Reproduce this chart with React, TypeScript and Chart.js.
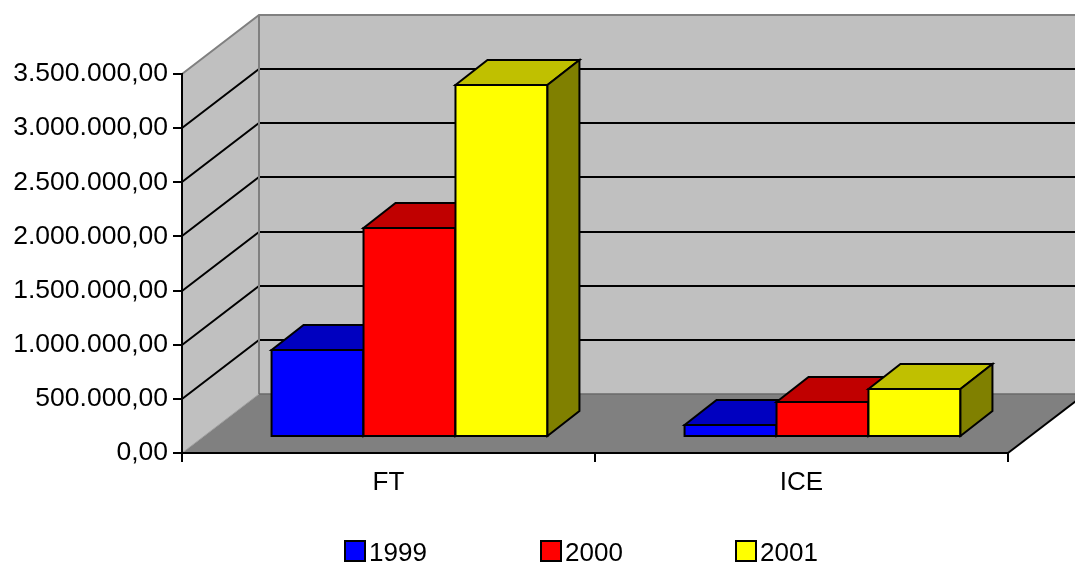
import React, { useEffect, useRef } from "react";
import { Chart, registerables } from "chart.js";

Chart.register(...registerables);

const categories = ["FT", "ICE"];
const seriesNames = ["1999", "2000", "2001"];
const values1999 = [803000, 111000];
const values2000 = [1930000, 323000];
const values2001 = [3251000, 443000];
const yTickMax = 3500000;
const yTickStep = 500000;

const frontColors = ["#0000ff", "#ff0000", "#ffff00"];
const topColors = ["#0000c0", "#c00000", "#c0c000"];
const sideColors = ["#000080", "#800000", "#808000"];

const FONT = "'Liberation Sans', Arial, sans-serif";

function fmt(v: number): string {
  const n = Math.round(v);
  const s = String(n).replace(/\B(?=(\d{3})+(?!\d))/g, ".");
  return s + ",00";
}

// oblique depth of the whole plot box, bar offset in depth, bar depth
const WALL = { dx: 77, dy: -59 };
const BAR_OFF = { dx: 21, dy: -16 };
const BAR_D = { dx: 32, dy: -25 };

const threeD = {
  id: "threeD",
  beforeDraw(chart: any) {
    const { ctx, chartArea } = chart;
    const { left: L, right: R, top: T, bottom: B } = chartArea;
    const ys = chart.scales.y;
    ctx.save();
    ctx.fillStyle = "#c0c0c0";
    ctx.beginPath();
    ctx.moveTo(L, B);
    ctx.lineTo(L, T);
    ctx.lineTo(L + WALL.dx, T + WALL.dy);
    ctx.lineTo(L + WALL.dx, B + WALL.dy);
    ctx.closePath();
    ctx.fill();
    ctx.fillRect(L + WALL.dx, T + WALL.dy, R - L, B - T);
    ctx.fillStyle = "#808080";
    ctx.beginPath();
    ctx.moveTo(L, B);
    ctx.lineTo(L + WALL.dx, B + WALL.dy);
    ctx.lineTo(R + WALL.dx, B + WALL.dy);
    ctx.lineTo(R, B);
    ctx.closePath();
    ctx.fill();
    ctx.strokeStyle = "#000000";
    ctx.lineWidth = 2;
    for (let v = yTickStep; v < yTickMax; v += yTickStep) {
      const y = Math.round(ys.getPixelForValue(v));
      ctx.beginPath();
      ctx.moveTo(L, y);
      ctx.lineTo(L + WALL.dx, y + WALL.dy);
      ctx.lineTo(R + WALL.dx, y + WALL.dy);
      ctx.stroke();
    }
    ctx.strokeStyle = "#808080";
    ctx.lineWidth = 2;
    ctx.beginPath();
    ctx.moveTo(L, T);
    ctx.lineTo(L + WALL.dx, T + WALL.dy);
    ctx.lineTo(R + WALL.dx, T + WALL.dy);
    ctx.moveTo(L + WALL.dx, T + WALL.dy);
    ctx.lineTo(L + WALL.dx, B + WALL.dy);
    ctx.stroke();
    ctx.strokeStyle = "#6a6a6a";
    ctx.lineWidth = 1.5;
    ctx.beginPath();
    ctx.moveTo(L + WALL.dx, B + WALL.dy);
    ctx.lineTo(R + WALL.dx, B + WALL.dy);
    ctx.stroke();
    ctx.strokeStyle = "#a0a0a0";
    ctx.lineWidth = 1;
    ctx.beginPath();
    ctx.moveTo(L, B);
    ctx.lineTo(L + WALL.dx, B + WALL.dy);
    ctx.stroke();
    ctx.strokeStyle = "#000000";
    ctx.lineWidth = 2;
    ctx.beginPath();
    ctx.moveTo(R, B);
    ctx.lineTo(R + WALL.dx, B + WALL.dy);
    ctx.stroke();
    ctx.restore();
  },
  afterDatasetsDraw(chart: any) {
    const { ctx } = chart;
    const n = chart.data.labels.length;
    ctx.save();
    ctx.lineWidth = 2;
    ctx.strokeStyle = "#000000";
    ctx.lineJoin = "miter";
    for (let c = 0; c < n; c++) {
      for (let d = 0; d < chart.data.datasets.length; d++) {
        const el: any = chart.getDatasetMeta(d).data[c];
        if (!el) continue;
        const x0 = el.x - el.width / 2 + BAR_OFF.dx;
        const x1 = el.x + el.width / 2 + BAR_OFF.dx;
        const top = el.y + BAR_OFF.dy;
        const bot = el.base + BAR_OFF.dy;
        ctx.fillStyle = frontColors[d];
        ctx.beginPath();
        ctx.rect(x0, top, x1 - x0, bot - top);
        ctx.fill();
        ctx.stroke();
        ctx.fillStyle = topColors[d];
        ctx.beginPath();
        ctx.moveTo(x0, top);
        ctx.lineTo(x0 + BAR_D.dx, top + BAR_D.dy);
        ctx.lineTo(x1 + BAR_D.dx, top + BAR_D.dy);
        ctx.lineTo(x1, top);
        ctx.closePath();
        ctx.fill();
        ctx.stroke();
        ctx.fillStyle = sideColors[d];
        ctx.beginPath();
        ctx.moveTo(x1, top);
        ctx.lineTo(x1 + BAR_D.dx, top + BAR_D.dy);
        ctx.lineTo(x1 + BAR_D.dx, bot + BAR_D.dy);
        ctx.lineTo(x1, bot);
        ctx.closePath();
        ctx.fill();
        ctx.stroke();
      }
    }
    ctx.restore();
  },
  afterDraw(chart: any) {
    const { ctx } = chart;
    ctx.save();
    const boxX = [345, 541, 736];
    const boxY = 541;
    const size = 20;
    ctx.font = "26px " + FONT;
    ctx.textBaseline = "alphabetic";
    ctx.textAlign = "left";
    for (let i = 0; i < seriesNames.length; i++) {
      ctx.fillStyle = frontColors[i];
      ctx.fillRect(boxX[i], boxY, size, size);
      ctx.strokeStyle = "#000";
      ctx.lineWidth = 2;
      ctx.strokeRect(boxX[i], boxY, size, size);
      ctx.fillStyle = "#000";
      ctx.fillText(seriesNames[i], boxX[i] + size + 4, boxY + size);
    }
    ctx.restore();
  },
};

export default function App() {
  const ref = useRef<HTMLCanvasElement>(null);
  useEffect(() => {
    if (!ref.current) return;
    const chart = new Chart(ref.current, {
      type: "bar",
      data: {
        labels: categories,
        datasets: [
          { label: seriesNames[0], data: values1999, backgroundColor: "rgba(0,0,0,0)" },
          { label: seriesNames[1], data: values2000, backgroundColor: "rgba(0,0,0,0)" },
          { label: seriesNames[2], data: values2001, backgroundColor: "rgba(0,0,0,0)" },
        ],
      },
      options: {
        responsive: false,
        animation: false,
        devicePixelRatio: 1,
        layout: { padding: { top: 74, right: 67, left: 0, bottom: 0 } },
        datasets: { bar: { categoryPercentage: 0.668, barPercentage: 1.0 } },
        plugins: { legend: { display: false }, tooltip: { enabled: false } },
        scales: {
          x: {
            afterFit(scale: any) {
              scale.height = 134;
            },
            grid: {
              offset: true,
              drawOnChartArea: false,
              drawTicks: true,
              tickLength: 9,
              color: "#000",
              lineWidth: 2,
            },
            border: { display: true, color: "#000", width: 2 },
            ticks: { color: "#000", font: { family: FONT, size: 26 }, padding: 5, maxRotation: 0 },
          },
          y: {
            min: 0,
            max: yTickMax,
            afterFit(scale: any) {
              scale.width = 182;
            },
            grid: {
              drawOnChartArea: false,
              drawTicks: true,
              tickLength: 9,
              color: "#000",
              lineWidth: 2,
            },
            border: { display: true, color: "#000", width: 2 },
            ticks: {
              stepSize: yTickStep,
              color: "#000",
              font: { family: FONT, size: 26.5 },
              padding: 5,
              callback: (v: any) => fmt(Number(v)),
            },
          },
        },
      },
      plugins: [threeD],
    });
    return () => chart.destroy();
  }, []);
  return (
    <div style={{ position: "absolute", left: 0, top: 0, width: 1075, height: 587, background: "#fff" }}>
      <canvas ref={ref} width={1075} height={587} style={{ display: "block" }} />
    </div>
  );
}
